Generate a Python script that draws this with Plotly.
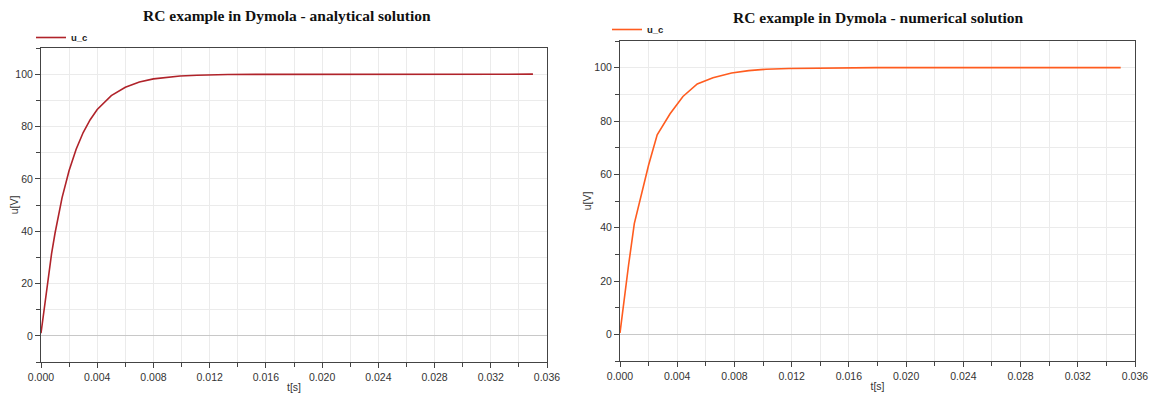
import plotly.graph_objects as go

# Analytical solution (time in s, voltage in V)
t_analytical = [0.0, 0.00025, 0.0005, 0.00075, 0.001, 0.0015, 0.002, 0.0025, 0.003,
                0.0035, 0.004, 0.005, 0.006, 0.007, 0.008, 0.0099, 0.0111, 0.0133, 0.035]
u_analytical = [1.0, 11.8, 22.1, 31.3, 39.3, 52.8, 63.2, 71.3, 77.7,
                82.6, 86.5, 91.8, 95.0, 97.0, 98.2, 99.3, 99.6, 99.9, 100.0]

# Numerical solution
t_numerical = [0.0, 0.0003, 0.0006, 0.001, 0.0015, 0.002, 0.0026, 0.0035, 0.0044,
               0.0054, 0.0065, 0.0078, 0.009, 0.0102, 0.0118, 0.0179, 0.035]
u_numerical = [0.5, 14.0, 26.0, 41.5, 53.0, 63.5, 74.8, 82.7, 89.2,
               93.9, 96.2, 98.0, 98.9, 99.4, 99.7, 100.0, 100.0]

titles = ["RC example in Dymola - analytical solution",
          "RC example in Dymola - numerical solution"]
x_ticks = [0.000, 0.004, 0.008, 0.012, 0.016, 0.020, 0.024, 0.028, 0.032, 0.036]
x_tick_labels = ["0.000", "0.004", "0.008", "0.012", "0.016", "0.020",
                 "0.024", "0.028", "0.032", "0.036"]
y_ticks = [0, 20, 40, 60, 80, 100]
series_name = "u_c"

W, H = 1157, 394
OFF = 8  # page body margin offset
fig = go.Figure()

fig.add_trace(go.Scatter(x=t_analytical, y=u_analytical, mode="lines", name=series_name,
                         line=dict(color="#b0232a", width=1.6), xaxis="x", yaxis="y",
                         legend="legend"))
fig.add_trace(go.Scatter(x=t_numerical, y=u_numerical, mode="lines", name=series_name,
                         line=dict(color="#ff5c1f", width=1.6), xaxis="x2", yaxis="y2",
                         legend="legend2"))

tickfont = dict(family="Liberation Sans, Arial, sans-serif", size=10.5, color="#333333")

def px(v):
    return (v - OFF) / W

def py(v):
    return 1 - (v - OFF) / H

def xaxis(domain, anchor):
    return dict(domain=domain, anchor=anchor, range=[0, 0.036], automargin=False,
                tickvals=x_ticks, ticktext=x_tick_labels,
                ticks="outside", ticklen=5, tickcolor="#444", tickwidth=1,
                showgrid=True, gridcolor="#ebebeb", gridwidth=1,
                minor=dict(dtick=0.002, tick0=0, ticks="outside", ticklen=4,
                           tickcolor="#444", showgrid=True, gridcolor="#ebebeb"),
                showline=True, linecolor="#444", linewidth=1, mirror=True,
                zeroline=False, tickfont=tickfont,
                title=dict(text="t[s]", font=tickfont, standoff=2))

def yaxis(domain, anchor):
    return dict(domain=domain, anchor=anchor, range=[-10, 110], automargin=False,
                tickvals=y_ticks, ticks="outside", ticklen=5, tickcolor="#444",
                showgrid=True, gridcolor="#ebebeb", gridwidth=1,
                minor=dict(dtick=10, tick0=0, ticks="outside", ticklen=4,
                           tickcolor="#444", showgrid=True, gridcolor="#ebebeb"),
                showline=True, linecolor="#444", linewidth=1, mirror=True,
                zeroline=True, zerolinecolor="#c8c8c8", zerolinewidth=1,
                tickfont=tickfont,
                title=dict(text="u[V]", font=tickfont, standoff=0))

legend_font = dict(family="Liberation Sans, Arial, sans-serif", size=9.5,
                   color="#222", weight="bold")

fig.update_layout(
    width=W, height=H,
    margin=dict(l=0, r=0, t=0, b=0, autoexpand=False),
    paper_bgcolor="white", plot_bgcolor="white",
    xaxis=xaxis([px(41), px(547)], "y"),
    yaxis=yaxis([py(362), py(48)], "x"),
    xaxis2=xaxis([px(620), px(1135)], "y2"),
    yaxis2=yaxis([py(361), py(41)], "x2"),
    legend=dict(x=px(31), y=py(23), xanchor="left", yanchor="top",
                font=legend_font, bgcolor="rgba(0,0,0,0)", itemwidth=30),
    legend2=dict(x=px(607), y=py(15), xanchor="left", yanchor="top",
                 font=legend_font, bgcolor="rgba(0,0,0,0)", itemwidth=30),
    showlegend=True,
)

title_font = dict(family="Liberation Serif, Times New Roman, serif", size=15.5,
                  color="#111", weight="bold")
fig.add_annotation(text=titles[0], xref="paper", yref="paper",
                   x=px(287), y=py(16), xanchor="center", yanchor="middle",
                   showarrow=False, font=title_font)
fig.add_annotation(text=titles[1], xref="paper", yref="paper",
                   x=px(878), y=py(8), xanchor="center", yanchor="top",
                   borderpad=0, showarrow=False, font=title_font)

fig.write_html("out.html")
